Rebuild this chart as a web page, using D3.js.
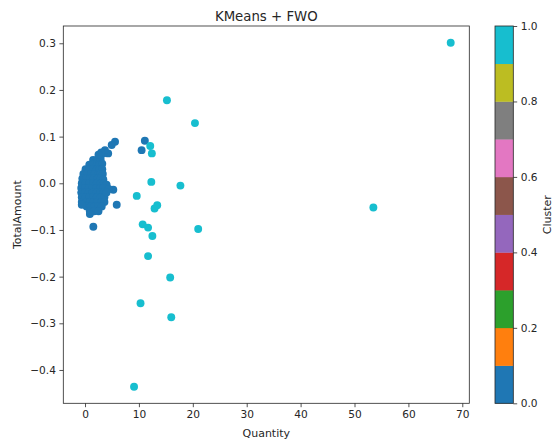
<!DOCTYPE html>
<html>
<head>
<meta charset="utf-8">
<script src="https://cdn.jsdelivr.net/npm/d3@7/dist/d3.min.js"></script>
<style>
  body { margin: 0; background: #fff; }
  svg { display: block; }
  text { font-family: "DejaVu Sans", sans-serif; fill: #262626; }
</style>
</head>
<body>
<svg id="chart" width="557" height="441"></svg>
<script>
// ---- Data ----
const title = "KMeans + FWO";
const xLabel = "Quantity";
const yLabel = "TotalAmount";
const cbarLabel = "Cluster";
const xTicks = [0, 10, 20, 30, 40, 50, 60, 70];
const yTicks = [0.3, 0.2, 0.1, 0.0, -0.1, -0.2, -0.3, -0.4];
const cbarTicks = [0.0, 0.2, 0.4, 0.6, 0.8, 1.0];
const tab10 = ["#1f77b4", "#ff7f0e", "#2ca02c", "#d62728", "#9467bd",
               "#8c564b", "#e377c2", "#7f7f7f", "#bcbd22", "#17becf"];

// cluster 0 points [Quantity, TotalAmount]
const cluster0 = [
  [1.5,0.050],[2.2,0.050],[2.9,0.052],
  [0.8,0.040],[1.5,0.040],[2.2,0.040],[2.7,0.040],[3.2,0.042],
  [0.1,0.030],[0.8,0.030],[1.5,0.030],[2.2,0.030],[2.7,0.030],[3.2,0.030],
  [-0.3,0.020],[0.4,0.020],[1.1,0.020],[1.8,0.020],[2.5,0.020],[2.8,0.020],[3.3,0.020],
  [-0.5,0.010],[0.2,0.010],[0.9,0.010],[1.6,0.010],[2.3,0.010],[2.9,0.010],[3.4,0.008],
  [-0.6,0.000],[0.1,0.000],[0.8,0.000],[1.5,0.000],[2.2,0.000],[2.9,0.000],[3.5,0.000],[4.0,-0.003],
  [-0.7,-0.010],[0.0,-0.010],[0.7,-0.010],[1.4,-0.010],[2.1,-0.010],[2.8,-0.010],[3.4,-0.010],
  [-0.7,-0.020],[0.0,-0.020],[0.7,-0.020],[1.4,-0.020],[2.1,-0.020],[2.8,-0.020],[3.4,-0.020],
  [-0.6,-0.030],[0.1,-0.030],[0.8,-0.030],[1.5,-0.030],[2.2,-0.030],[2.9,-0.030],[3.6,-0.030],
  [-0.6,-0.040],[0.2,-0.040],[0.9,-0.040],[1.6,-0.040],[2.3,-0.040],[3.0,-0.040],[3.6,-0.040],
  [0.3,-0.050],[1.0,-0.050],[1.7,-0.050],[2.4,-0.050],[3.1,-0.050],
  [0.9,-0.060],[1.7,-0.060],[2.5,-0.060],[0.9,-0.066],
  [5.57,0.089],[4.95,0.082],[4.3,0.064],[3.4,0.064],[3.7,0.071],[3.0,0.066],[2.5,0.061],
  [5.25,-0.014],[4.4,-0.012],[4.0,-0.020],[5.88,-0.046],[1.54,-0.093],[-0.6,-0.046],
  [11.1,0.091],[10.5,0.071]
];
// cluster 1 points [Quantity, TotalAmount]
const cluster1 = [
  [67.85,0.301],[53.5,-0.052],[15.2,0.178],[20.4,0.129],[12.1,0.080],[12.4,0.064],
  [12.3,0.003],[17.7,-0.005],[9.6,-0.027],[12.9,-0.054],[13.4,-0.047],[10.7,-0.088],
  [11.7,-0.095],[12.5,-0.113],[21.0,-0.098],[11.7,-0.156],[15.8,-0.202],[10.3,-0.257],
  [16.0,-0.287],[9.1,-0.436]
];

// ---- Layout ----
const svg = d3.select("#chart");
const plot = { left: 63.3, right: 469.3, top: 26, bottom: 403.3 };
const cbar = { left: 495, right: 513.3, top: 26, bottom: 403.3 };

const x = d3.scaleLinear().domain([-4.03, 71.3]).range([plot.left, plot.right]);
const y = d3.scaleLinear().domain([-0.4714, 0.337]).range([plot.bottom, plot.top]);
const cScale = d3.scaleLinear().domain([0, 1]).range([cbar.bottom, cbar.top]);

// points
const g = svg.append("g");
g.selectAll("circle.c0").data(cluster0).enter().append("circle")
  .attr("cx", d => x(d[0])).attr("cy", d => y(d[1])).attr("r", 3.95)
  .attr("fill", tab10[0]);
g.selectAll("circle.c1").data(cluster1).enter().append("circle")
  .attr("cx", d => x(d[0])).attr("cy", d => y(d[1])).attr("r", 3.95)
  .attr("fill", tab10[9]);

// axes
const xAxis = d3.axisBottom(x).tickValues(xTicks).tickSize(3.9).tickPadding(3.5)
  .tickFormat(d3.format("d"));
const yAxis = d3.axisLeft(y).tickValues(yTicks).tickSize(3.9).tickPadding(3.5)
  .tickFormat(d3.format(".1f"));

function styleAxis(sel) {
  sel.select(".domain").remove();
  sel.selectAll(".tick line").attr("stroke", "#262626").attr("stroke-width", 0.8);
  sel.selectAll(".tick text").attr("font-size", 10.6).attr("fill", "#262626")
    .attr("font-family", "DejaVu Sans, sans-serif");
}
svg.append("g").attr("transform", `translate(0,${plot.bottom})`).call(xAxis).call(styleAxis);
svg.append("g").attr("transform", `translate(${plot.left},0)`).call(yAxis).call(styleAxis)
  .selectAll(".tick text").text(d => d3.format(".1f")(d).replace("-", "\u2212"));

// frame
svg.append("rect").attr("x", plot.left).attr("y", plot.top)
  .attr("width", plot.right - plot.left).attr("height", plot.bottom - plot.top)
  .attr("fill", "none").attr("stroke", "#262626").attr("stroke-width", 0.8);

// colorbar
const segs = d3.range(tab10.length);
svg.append("g").selectAll("rect").data(segs).enter().append("rect")
  .attr("x", cbar.left)
  .attr("y", i => cScale((i + 1) / 10))
  .attr("width", cbar.right - cbar.left)
  .attr("height", i => cScale(i / 10) - cScale((i + 1) / 10) + 0.3)
  .attr("fill", i => tab10[i]);
svg.append("rect").attr("x", cbar.left).attr("y", cbar.top)
  .attr("width", cbar.right - cbar.left).attr("height", cbar.bottom - cbar.top)
  .attr("fill", "none").attr("stroke", "#262626").attr("stroke-width", 0.8);
const cAxis = d3.axisRight(cScale).tickValues(cbarTicks).tickSize(3.9).tickPadding(3.5)
  .tickFormat(d3.format(".1f"));
svg.append("g").attr("transform", `translate(${cbar.right},0)`).call(cAxis).call(styleAxis);

// labels
svg.append("text").attr("x", (plot.left + plot.right) / 2).attr("y", 21)
  .attr("text-anchor", "middle").attr("font-size", 13.3).text(title);
svg.append("text").attr("x", (plot.left + plot.right) / 2).attr("y", 437)
  .attr("text-anchor", "middle").attr("font-size", 11).text(xLabel);
svg.append("text").attr("transform", `translate(20.5,${(plot.top + plot.bottom) / 2}) rotate(-90)`)
  .attr("text-anchor", "middle").attr("font-size", 11).text(yLabel);
svg.append("text").attr("transform", `translate(551,${(cbar.top + cbar.bottom) / 2}) rotate(-90)`)
  .attr("text-anchor", "middle").attr("font-size", 11).text(cbarLabel);
</script>
</body>
</html>
